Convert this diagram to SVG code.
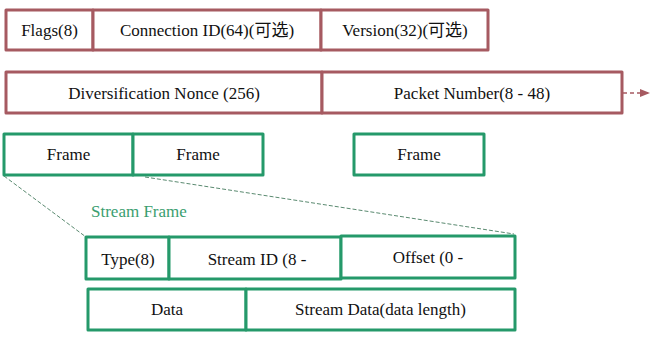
<svg xmlns="http://www.w3.org/2000/svg" width="653" height="340" viewBox="0 0 653 340">
<style>
.r{fill:#fff;stroke:#a65a61;stroke-width:3;stroke-linejoin:round}
.g{fill:#fff;stroke:#25996a;stroke-width:3;stroke-linejoin:round}
text{font-family:"Liberation Serif","Noto Sans CJK SC",serif;font-size:17px;fill:#111;text-anchor:middle}
.lbl{fill:#3a9e70;text-anchor:start}
.dl{stroke:#5a8a70;stroke-width:1;stroke-dasharray:4 2;fill:none}
</style>
<defs>
<marker id="ah" markerWidth="10" markerHeight="8" refX="9" refY="4" orient="auto" markerUnits="userSpaceOnUse">
<path d="M0,0 L10,4 L0,8 Z" fill="#a65a61"/>
</marker>
</defs>
<g id="connectors">
<line class="dl" x1="4" y1="176" x2="86" y2="237"/>
<line class="dl" x1="145" y1="177" x2="514" y2="234"/>
<line x1="623" y1="93" x2="649" y2="93" stroke="#a65a61" stroke-width="1.3" stroke-dasharray="4 3" marker-end="url(#ah)"/>
</g>
<g id="flags"><rect class="r" x="6" y="10" width="87" height="40"/><text x="49.5" y="36">Flags(8)</text></g>
<g id="connid"><rect class="r" x="93" y="10" width="228" height="40"/><text x="207" y="36">Connection ID(64)(可选)</text></g>
<g id="version"><rect class="r" x="321" y="10" width="167" height="40"/><text x="405" y="36">Version(32)(可选)</text></g>
<g id="nonce"><rect class="r" x="6" y="72" width="316" height="41"/><text x="164" y="99">Diversification Nonce (256)</text></g>
<g id="pktnum"><rect class="r" x="322" y="72" width="300" height="41"/><text x="472" y="99">Packet Number(8 - 48)</text></g>
<g id="frame1"><rect class="g" x="4" y="134" width="129" height="41"/><text x="68.5" y="160">Frame</text></g>
<g id="frame2"><rect class="g" x="133" y="134" width="130" height="41"/><text x="198" y="160">Frame</text></g>
<g id="frame3"><rect class="g" x="354" y="134" width="130" height="41"/><text x="419" y="160">Frame</text></g>
<g id="streamframe"><text class="lbl" x="91" y="217">Stream Frame</text></g>
<g id="type"><rect class="g" x="86" y="237" width="83" height="42"/><text x="128" y="265">Type(8)</text></g>
<g id="streamid"><rect class="g" x="169" y="237" width="172" height="42"/><text x="257" y="265">Stream ID (8 -</text></g>
<g id="offset"><rect class="g" x="341" y="236" width="174" height="42"/><text x="428" y="263">Offset (0 -</text></g>
<g id="data"><rect class="g" x="88" y="289" width="158" height="41"/><text x="167" y="315">Data</text></g>
<g id="streamdata"><rect class="g" x="246" y="289" width="269" height="41"/><text x="380.5" y="315">Stream Data(data length)</text></g>
</svg>
